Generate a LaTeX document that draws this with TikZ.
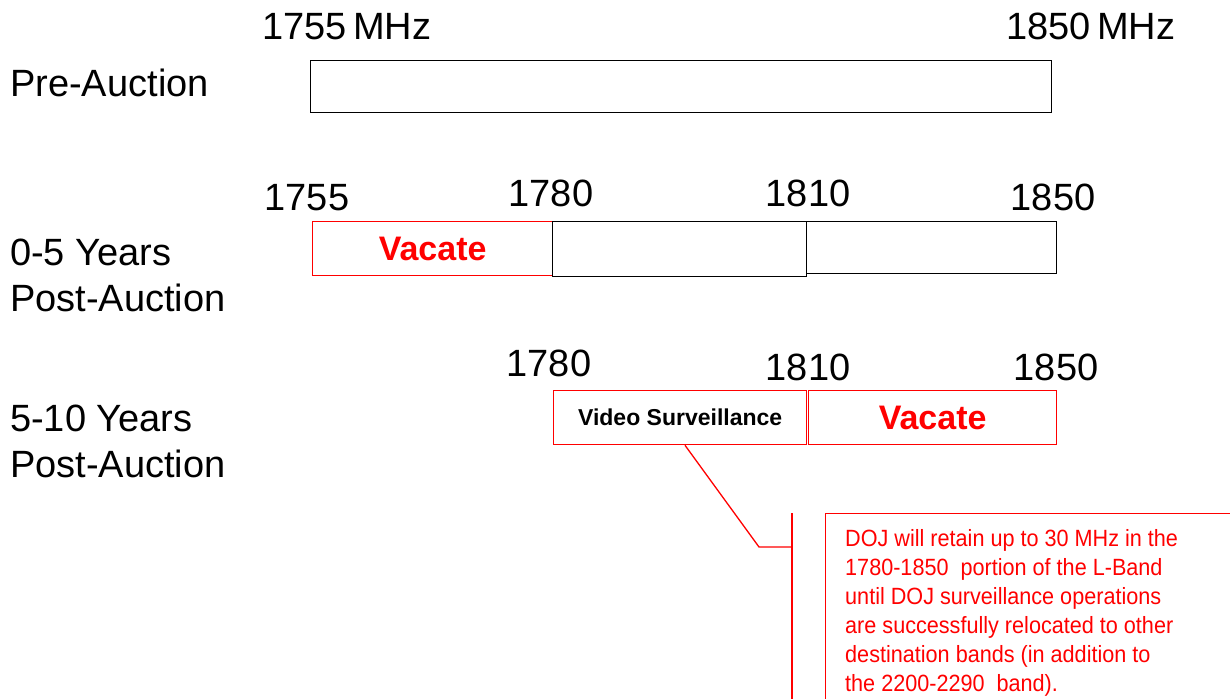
\documentclass[tikz,border=0pt]{standalone}
\usepackage{fontspec}
\setmainfont{Liberation Sans}
\newfontfamily\narrowfont[FakeStretch=0.92]{Liberation Sans}
\definecolor{pred}{RGB}{255,0,0}
\begin{document}
\begin{tikzpicture}[x=1pt,y=-1pt,
  big/.style={font=\fontsize{38}{44}\selectfont, inner sep=0pt, anchor=base west},
  num/.style={font=\fontsize{38}{44}\selectfont, inner sep=0pt, anchor=base},
  band/.style={draw, line width=1.3pt, inner sep=0pt, anchor=north west},
  redband/.style={band, draw=pred},
  vac/.style={font=\bfseries\fontsize{34}{38}\selectfont, text=pred, inner sep=0pt},
  callline/.style={draw=pred, line width=1.3pt}]
\clip (0,0) rectangle (1230,698);
\useasboundingbox (0,0) rectangle (1230,698);
% Row 1
\node[big] (t1755) at (262,40) {1755\,MHz};
\node[big] (t1850) at (1006,40) {1850\,MHz};
\node[big] (pre) at (10,97) {Pre-Auction};
\node[band, minimum width=741pt, minimum height=52pt] (preband) at (310,60) {};
% Row 2
\node[num] (a1755) at (307,210) {1755};
\node[num] (a1780) at (551,206) {1780};
\node[num] (a1810) at (808,206) {1810};
\node[num] (a1850) at (1053,210) {1850};
\node[big] (y05) at (10,265) {0-5 Years};
\node[big] (pa1) at (10,311) {Post-Auction};
\node[redband, minimum width=240pt, minimum height=54pt] (vac1) at (312,221) {};
\node[band, minimum width=254pt, minimum height=55pt] (mid1) at (552,221) {};
\node[band, minimum width=250pt, minimum height=52pt] (top1) at (806,221) {};
\node[vac] (vac1t) at (vac1.center) {Vacate};
% Row 3
\node[num] (b1780) at (549,376) {1780};
\node[num] (b1810) at (808,380) {1810};
\node[num] (b1850) at (1056,380) {1850};
\node[big] (y510) at (10,431) {5-10 Years};
\node[big] (pa2) at (10,477) {Post-Auction};
\node[redband, minimum width=253pt, minimum height=54pt] (vs) at (553,390) {};
\node[redband, minimum width=248pt, minimum height=54pt] (vac2) at (808,390) {};
\node[font=\bfseries\fontsize{23}{28}\selectfont, inner sep=0pt] (vst) at (vs.center) {Video Surveillance};
\node[vac] (vac2t) at (vac2.center) {Vacate};
% Callout
\coordinate (k1) at (759,547);
\coordinate (k2) at (792,547);
\coordinate (bartop) at (792,513);
\coordinate (barbot) at (792,700);
\draw[callline] (vs.south -| 685,0) -- (k1) -- (k2);
\draw[callline] (bartop) -- (barbot);
\node[draw=pred, line width=1.3pt, anchor=north west, inner sep=0pt,
  minimum width=420pt, minimum height=200pt] (cbox) at (825,513) {};
\node[font=\narrowfont\fontsize{23.5}{29}\selectfont, text=pred, align=left, anchor=north west, inner sep=0pt] (ctext) at (845,529)
  {DOJ will retain up to 30 MHz in the\\
   1780-1850 \ portion of the L-Band\\
   until DOJ surveillance operations\\
   are successfully relocated to other\\
   destination bands (in addition to\\
   the 2200-2290 \ band).};
\end{tikzpicture}
\end{document}
